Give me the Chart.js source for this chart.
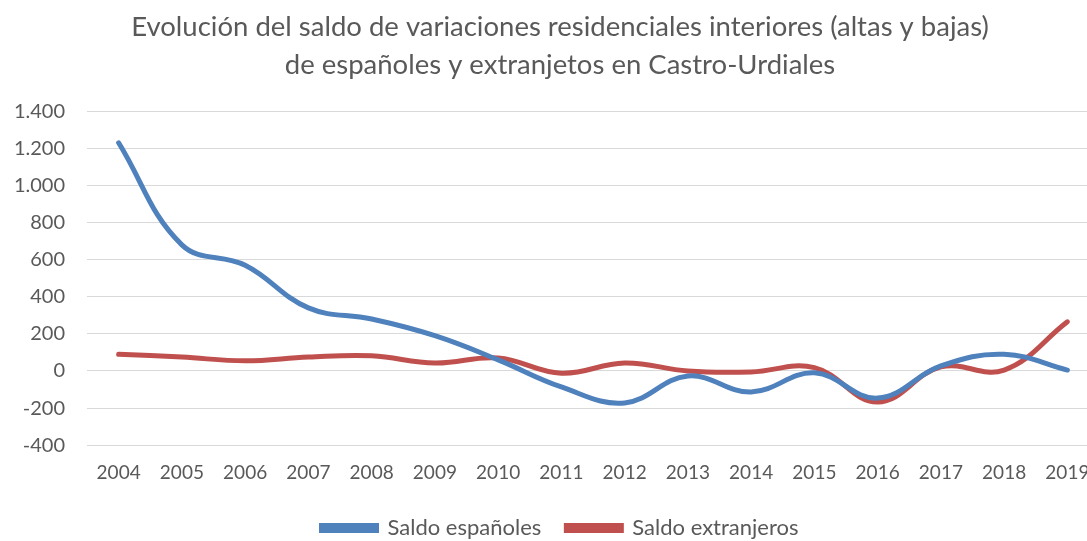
<!DOCTYPE html>
<html>
<head>
<meta charset="utf-8">
<script src="https://cdn.jsdelivr.net/npm/chart.js@4/dist/chart.umd.min.js"></script>
<style>
  html, body { margin: 0; padding: 0; background: #fff; overflow: hidden; }
  #wrap { width: 1120px; height: 541px; }
</style>
</head>
<body>
<div id="wrap"><canvas id="chart"></canvas></div>
<script>
const years = ["2004", "2005", "2006", "2007", "2008", "2009", "2010", "2011",
  "2012", "2013", "2014", "2015", "2016", "2017", "2018", "2019"];
const saldoEspanoles = [1230, 680, 570, 340, 280, 190, 60, -86, -172, -27, -113, -10, -146, 27, 90, 5];
const saldoExtranjeros = [90, 75, 55, 75, 82, 43, 70, -12, 43, 0, -5, 18, -167, 22, 5, 265];
const yMin = -400, yMax = 1400, yStep = 200;

const grey = "#595959";
const font = "Lato, 'Open Sans', sans-serif";

function fmt(v) {
  return String(v).replace(/\B(?=(\d{3})+(?!\d))/g, ".");
}

new Chart(document.getElementById("chart"), {
  type: "line",
  data: {
    labels: years,
    datasets: [
      { label: "Saldo españoles", data: saldoEspanoles, borderColor: "#4F81BD", backgroundColor: "#4F81BD",
        borderWidth: 5, tension: 0.4, pointRadius: 0, borderCapStyle: "round" },
      { label: "Saldo extranjeros", data: saldoExtranjeros, borderColor: "#C0504D", backgroundColor: "#C0504D",
        borderWidth: 5, tension: 0.4, pointRadius: 0, borderCapStyle: "round" }
    ]
  },
  options: {
    responsive: true,
    maintainAspectRatio: false,
    animation: false,
    layout: { padding: { left: 0, right: 0, top: 0, bottom: -8 } },
    plugins: {
      title: {
        display: true,
        text: ["Evolución del saldo de variaciones residenciales interiores (altas y bajas)",
               "de españoles y extranjetos en Castro-Urdiales"],
        color: grey,
        font: { family: font, size: 27.5, weight: "normal", lineHeight: 1.35 },
        padding: { top: 9, bottom: 28 }
      },
      legend: {
        position: "bottom",
        labels: { color: grey, font: { family: font, size: 22 }, boxWidth: 55, boxHeight: 5, padding: 25 }
      },
      tooltip: { enabled: false }
    },
    scales: {
      x: {
        offset: true,
        grid: { display: false },
        border: { display: false },
        ticks: { color: grey, font: { family: font, size: 19 }, padding: 8, maxRotation: 0, autoSkip: false }
      },
      y: {
        min: yMin, max: yMax,
        afterFit(axis) { axis.width = 87; },
        grid: { color: "#d9d9d9", lineWidth: 1, drawTicks: false },
        border: { display: false },
        ticks: { stepSize: yStep, color: grey, font: { family: font, size: 20 }, padding: 22, callback: v => fmt(v) }
      },
      // empty right-hand axis: keeps the plot narrower without moving the title
      y2: {
        position: "right",
        afterFit(axis) { axis.width = 21; },
        grid: { display: false },
        border: { display: false },
        ticks: { display: false }
      }
    }
  }
});
</script>
</body>
</html>
